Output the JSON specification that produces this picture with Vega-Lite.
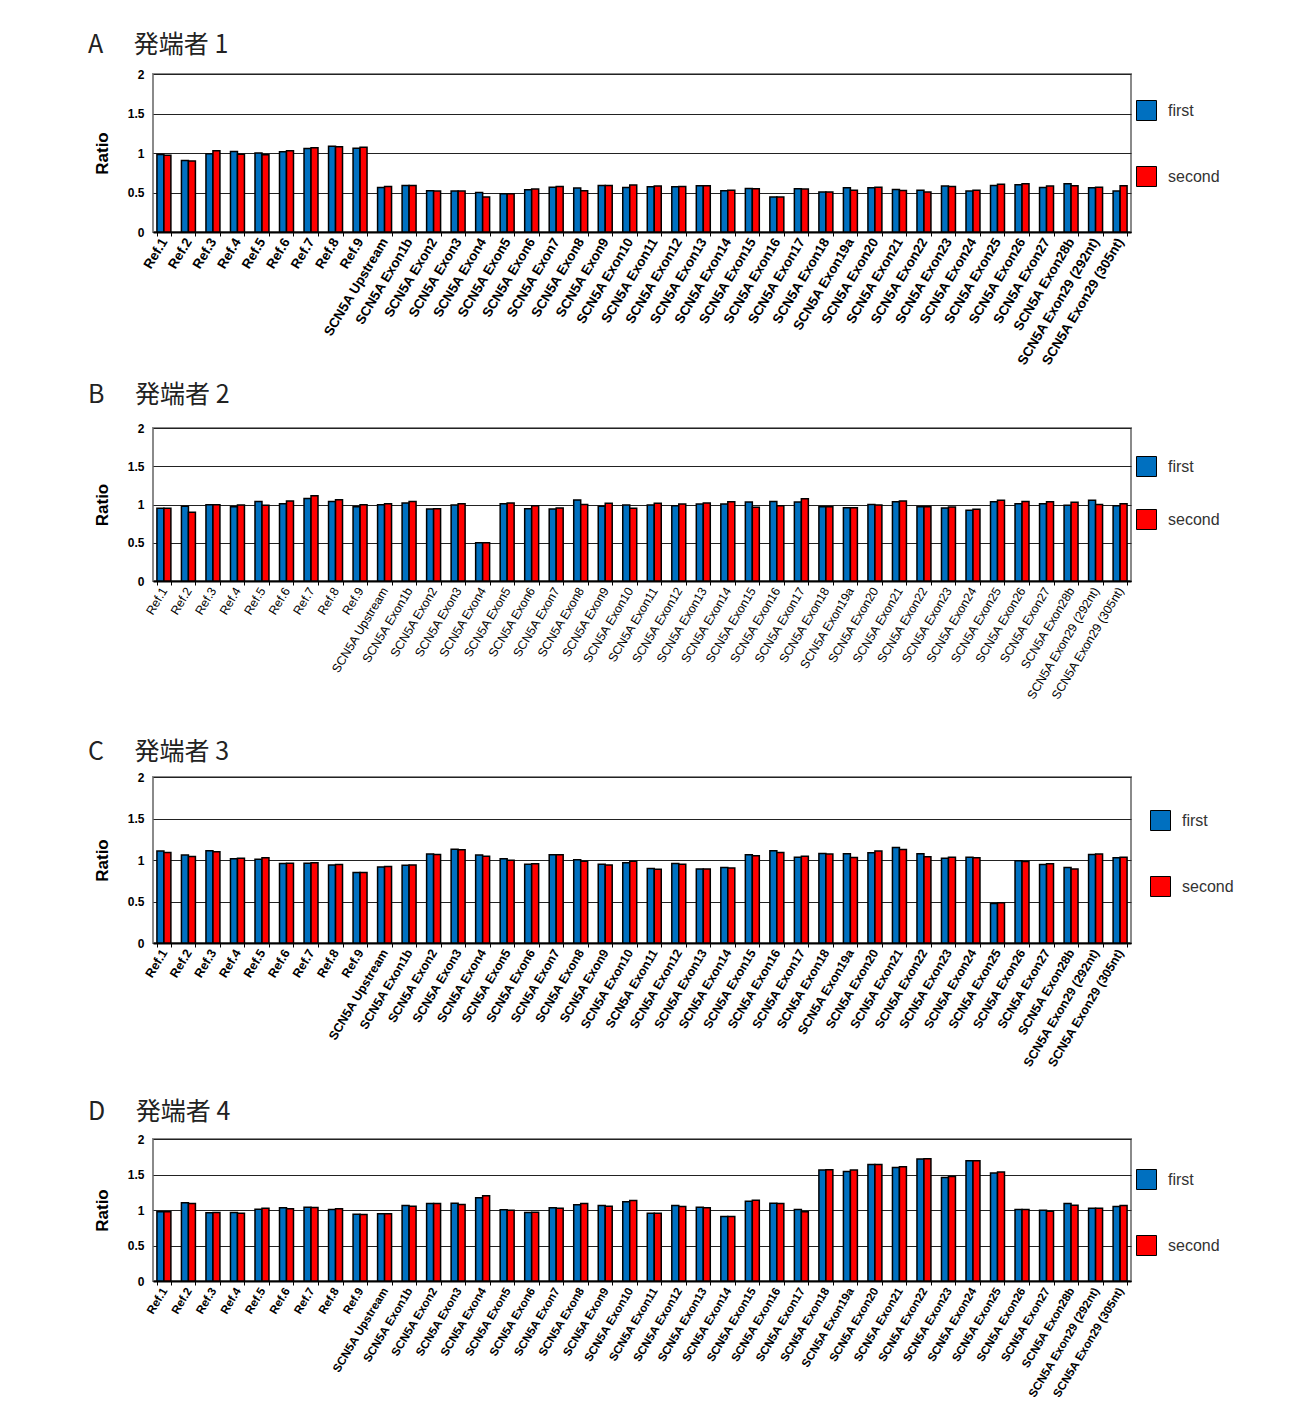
{
  "$schema": "https://vega.github.io/schema/vega-lite/v6.json",
  "padding": {"left": 87, "top": 32, "right": 5, "bottom": 5},
  "background": "white",
  "spacing": 196,
  "bounds": "flush",
  "config": {
    "view": {"stroke": "#8a8a8a", "strokeWidth": 2},
    "axis": {"labelFont": "Liberation Sans", "labelColor": "black", "titleFont": "Liberation Sans", "titleColor": "black"},
    "axisX": {"domainColor": "black", "domainWidth": 2, "tickColor": "black", "tickSize": 4, "tickBand": "extent", "labelAngle": -59, "labelPadding": 3, "grid": false, "labelLimit": 300},
    "axisY": {"domain": false, "ticks": false, "labelFontSize": 12, "labelFontWeight": "bold", "labelPadding": 9, "grid": true, "gridColor": "#222", "gridWidth": 1, "titleFontSize": 17, "titleFontWeight": "bold", "minExtent": 38, "maxExtent": 38, "titlePadding": 4},
    "title": {"font": "Noto Sans CJK JP", "fontSize": 25, "fontWeight": "normal", "color": "#222", "anchor": "start", "frame": "group", "dx": -65},
    "legend": {"orient": "none", "legendX": 983, "title": null, "symbolType": "square", "symbolSize": 400, "symbolStrokeColor": "black", "symbolStrokeWidth": 1, "symbolOpacity": 1, "labelFontSize": 16, "labelFont": "Liberation Sans", "labelColor": "#333", "labelOffset": 11}
  },
  "resolve": {"scale": {"color": "independent", "x": "independent", "y": "independent"}, "legend": {"color": "independent"}},
  "datasets": {
    "A": [
      {"c": "Ref.1", "first": 0.98, "second": 0.97},
      {"c": "Ref.2", "first": 0.905, "second": 0.9},
      {"c": "Ref.3", "first": 0.99, "second": 1.03},
      {"c": "Ref.4", "first": 1.02, "second": 0.985},
      {"c": "Ref.5", "first": 1.0, "second": 0.977},
      {"c": "Ref.6", "first": 1.015, "second": 1.03},
      {"c": "Ref.7", "first": 1.057, "second": 1.065},
      {"c": "Ref.8", "first": 1.086, "second": 1.078},
      {"c": "Ref.9", "first": 1.06, "second": 1.074},
      {"c": "SCN5A Upstream", "first": 0.564, "second": 0.577},
      {"c": "SCN5A Exon1b", "first": 0.589, "second": 0.589},
      {"c": "SCN5A Exon2", "first": 0.522, "second": 0.518},
      {"c": "SCN5A Exon3", "first": 0.518, "second": 0.518},
      {"c": "SCN5A Exon4", "first": 0.5, "second": 0.442},
      {"c": "SCN5A Exon5", "first": 0.484, "second": 0.484},
      {"c": "SCN5A Exon6", "first": 0.535, "second": 0.543},
      {"c": "SCN5A Exon7", "first": 0.568, "second": 0.577},
      {"c": "SCN5A Exon8", "first": 0.556, "second": 0.522},
      {"c": "SCN5A Exon9", "first": 0.589, "second": 0.589},
      {"c": "SCN5A Exon10", "first": 0.564, "second": 0.594},
      {"c": "SCN5A Exon11", "first": 0.573, "second": 0.581},
      {"c": "SCN5A Exon12", "first": 0.573, "second": 0.577},
      {"c": "SCN5A Exon13", "first": 0.585, "second": 0.585},
      {"c": "SCN5A Exon14", "first": 0.522, "second": 0.53},
      {"c": "SCN5A Exon15", "first": 0.552, "second": 0.547},
      {"c": "SCN5A Exon16", "first": 0.442, "second": 0.442},
      {"c": "SCN5A Exon17", "first": 0.547, "second": 0.543},
      {"c": "SCN5A Exon18", "first": 0.505, "second": 0.505},
      {"c": "SCN5A Exon19a", "first": 0.56, "second": 0.53},
      {"c": "SCN5A Exon20", "first": 0.56, "second": 0.568},
      {"c": "SCN5A Exon21", "first": 0.539, "second": 0.526},
      {"c": "SCN5A Exon22", "first": 0.53, "second": 0.505},
      {"c": "SCN5A Exon23", "first": 0.581, "second": 0.577},
      {"c": "SCN5A Exon24", "first": 0.518, "second": 0.53},
      {"c": "SCN5A Exon25", "first": 0.589, "second": 0.606},
      {"c": "SCN5A Exon26", "first": 0.598, "second": 0.61},
      {"c": "SCN5A Exon27", "first": 0.564, "second": 0.581},
      {"c": "SCN5A Exon28b", "first": 0.61, "second": 0.585},
      {"c": "SCN5A Exon29 (292nt)", "first": 0.56, "second": 0.568},
      {"c": "SCN5A Exon29 (305nt)", "first": 0.518, "second": 0.585}
    ],
    "B": [
      {"c": "Ref.1", "first": 0.95, "second": 0.95},
      {"c": "Ref.2", "first": 0.976, "second": 0.9},
      {"c": "Ref.3", "first": 0.998, "second": 0.998},
      {"c": "Ref.4", "first": 0.97, "second": 0.993},
      {"c": "Ref.5", "first": 1.04, "second": 0.99},
      {"c": "Ref.6", "first": 1.01, "second": 1.046},
      {"c": "Ref.7", "first": 1.08, "second": 1.115},
      {"c": "Ref.8", "first": 1.04, "second": 1.063},
      {"c": "Ref.9", "first": 0.97, "second": 0.998},
      {"c": "SCN5A Upstream", "first": 0.998, "second": 1.01},
      {"c": "SCN5A Exon1b", "first": 1.02, "second": 1.04},
      {"c": "SCN5A Exon2", "first": 0.94, "second": 0.945},
      {"c": "SCN5A Exon3", "first": 0.993, "second": 1.01},
      {"c": "SCN5A Exon4", "first": 0.5, "second": 0.5},
      {"c": "SCN5A Exon5", "first": 1.01, "second": 1.02},
      {"c": "SCN5A Exon6", "first": 0.945, "second": 0.985},
      {"c": "SCN5A Exon7", "first": 0.94, "second": 0.955},
      {"c": "SCN5A Exon8", "first": 1.06, "second": 1.0},
      {"c": "SCN5A Exon9", "first": 0.976, "second": 1.015},
      {"c": "SCN5A Exon10", "first": 0.993, "second": 0.95},
      {"c": "SCN5A Exon11", "first": 0.993, "second": 1.015},
      {"c": "SCN5A Exon12", "first": 0.985, "second": 1.006},
      {"c": "SCN5A Exon13", "first": 1.006, "second": 1.02},
      {"c": "SCN5A Exon14", "first": 1.006, "second": 1.037},
      {"c": "SCN5A Exon15", "first": 1.033, "second": 0.963},
      {"c": "SCN5A Exon16", "first": 1.04, "second": 0.985},
      {"c": "SCN5A Exon17", "first": 1.033, "second": 1.076},
      {"c": "SCN5A Exon18", "first": 0.97, "second": 0.97},
      {"c": "SCN5A Exon19a", "first": 0.958, "second": 0.958},
      {"c": "SCN5A Exon20", "first": 1.0, "second": 0.993},
      {"c": "SCN5A Exon21", "first": 1.037, "second": 1.046},
      {"c": "SCN5A Exon22", "first": 0.97, "second": 0.97},
      {"c": "SCN5A Exon23", "first": 0.954, "second": 0.967},
      {"c": "SCN5A Exon24", "first": 0.924, "second": 0.937},
      {"c": "SCN5A Exon25", "first": 1.037, "second": 1.054},
      {"c": "SCN5A Exon26", "first": 1.01, "second": 1.04},
      {"c": "SCN5A Exon27", "first": 1.01, "second": 1.037},
      {"c": "SCN5A Exon28b", "first": 0.99, "second": 1.028},
      {"c": "SCN5A Exon29 (292nt)", "first": 1.054, "second": 1.0},
      {"c": "SCN5A Exon29 (305nt)", "first": 0.985, "second": 1.01}
    ],
    "C": [
      {"c": "Ref.1", "first": 1.107, "second": 1.09},
      {"c": "Ref.2", "first": 1.059, "second": 1.042},
      {"c": "Ref.3", "first": 1.111, "second": 1.099},
      {"c": "Ref.4", "first": 1.014, "second": 1.022},
      {"c": "Ref.5", "first": 1.01, "second": 1.026},
      {"c": "Ref.6", "first": 0.958, "second": 0.962},
      {"c": "Ref.7", "first": 0.962, "second": 0.966},
      {"c": "Ref.8", "first": 0.941, "second": 0.945},
      {"c": "Ref.9", "first": 0.848, "second": 0.848},
      {"c": "SCN5A Upstream", "first": 0.917, "second": 0.921},
      {"c": "SCN5A Exon1b", "first": 0.937, "second": 0.941},
      {"c": "SCN5A Exon2", "first": 1.071, "second": 1.067},
      {"c": "SCN5A Exon3", "first": 1.131, "second": 1.123},
      {"c": "SCN5A Exon4", "first": 1.059, "second": 1.046},
      {"c": "SCN5A Exon5", "first": 1.014, "second": 0.998},
      {"c": "SCN5A Exon6", "first": 0.949, "second": 0.954},
      {"c": "SCN5A Exon7", "first": 1.063, "second": 1.063},
      {"c": "SCN5A Exon8", "first": 1.002, "second": 0.986},
      {"c": "SCN5A Exon9", "first": 0.949, "second": 0.941},
      {"c": "SCN5A Exon10", "first": 0.966, "second": 0.986},
      {"c": "SCN5A Exon11", "first": 0.897, "second": 0.889},
      {"c": "SCN5A Exon12", "first": 0.958, "second": 0.949},
      {"c": "SCN5A Exon13", "first": 0.893, "second": 0.893},
      {"c": "SCN5A Exon14", "first": 0.909, "second": 0.905},
      {"c": "SCN5A Exon15", "first": 1.063, "second": 1.051},
      {"c": "SCN5A Exon16", "first": 1.111, "second": 1.091},
      {"c": "SCN5A Exon17", "first": 1.034, "second": 1.046},
      {"c": "SCN5A Exon18", "first": 1.079, "second": 1.071},
      {"c": "SCN5A Exon19a", "first": 1.075, "second": 1.03},
      {"c": "SCN5A Exon20", "first": 1.087, "second": 1.107},
      {"c": "SCN5A Exon21", "first": 1.152, "second": 1.127},
      {"c": "SCN5A Exon22", "first": 1.075, "second": 1.038},
      {"c": "SCN5A Exon23", "first": 1.022, "second": 1.034},
      {"c": "SCN5A Exon24", "first": 1.034, "second": 1.026},
      {"c": "SCN5A Exon25", "first": 0.477, "second": 0.485},
      {"c": "SCN5A Exon26", "first": 0.99, "second": 0.982},
      {"c": "SCN5A Exon27", "first": 0.945, "second": 0.954},
      {"c": "SCN5A Exon28b", "first": 0.909, "second": 0.893},
      {"c": "SCN5A Exon29 (292nt)", "first": 1.067, "second": 1.071},
      {"c": "SCN5A Exon29 (305nt)", "first": 1.026, "second": 1.034}
    ],
    "D": [
      {"c": "Ref.1", "first": 0.974, "second": 0.974},
      {"c": "Ref.2", "first": 1.101, "second": 1.092},
      {"c": "Ref.3", "first": 0.96, "second": 0.965},
      {"c": "Ref.4", "first": 0.965, "second": 0.955},
      {"c": "Ref.5", "first": 1.012, "second": 1.026},
      {"c": "Ref.6", "first": 1.031, "second": 1.016},
      {"c": "Ref.7", "first": 1.04, "second": 1.035},
      {"c": "Ref.8", "first": 1.007, "second": 1.016},
      {"c": "Ref.9", "first": 0.941, "second": 0.936},
      {"c": "SCN5A Upstream", "first": 0.946, "second": 0.946},
      {"c": "SCN5A Exon1b", "first": 1.064, "second": 1.054},
      {"c": "SCN5A Exon2", "first": 1.092, "second": 1.092},
      {"c": "SCN5A Exon3", "first": 1.096, "second": 1.078},
      {"c": "SCN5A Exon4", "first": 1.172, "second": 1.2},
      {"c": "SCN5A Exon5", "first": 1.002, "second": 0.998},
      {"c": "SCN5A Exon6", "first": 0.965, "second": 0.969},
      {"c": "SCN5A Exon7", "first": 1.031, "second": 1.026},
      {"c": "SCN5A Exon8", "first": 1.073, "second": 1.092},
      {"c": "SCN5A Exon9", "first": 1.064, "second": 1.054},
      {"c": "SCN5A Exon10", "first": 1.115, "second": 1.134},
      {"c": "SCN5A Exon11", "first": 0.955, "second": 0.955},
      {"c": "SCN5A Exon12", "first": 1.064, "second": 1.049},
      {"c": "SCN5A Exon13", "first": 1.04, "second": 1.031},
      {"c": "SCN5A Exon14", "first": 0.908, "second": 0.908},
      {"c": "SCN5A Exon15", "first": 1.125, "second": 1.139},
      {"c": "SCN5A Exon16", "first": 1.096, "second": 1.092},
      {"c": "SCN5A Exon17", "first": 1.007, "second": 0.974},
      {"c": "SCN5A Exon18", "first": 1.562, "second": 1.567},
      {"c": "SCN5A Exon19a", "first": 1.544, "second": 1.562},
      {"c": "SCN5A Exon20", "first": 1.642, "second": 1.642},
      {"c": "SCN5A Exon21", "first": 1.6, "second": 1.609},
      {"c": "SCN5A Exon22", "first": 1.718, "second": 1.722},
      {"c": "SCN5A Exon23", "first": 1.459, "second": 1.473},
      {"c": "SCN5A Exon24", "first": 1.694, "second": 1.694},
      {"c": "SCN5A Exon25", "first": 1.52, "second": 1.534},
      {"c": "SCN5A Exon26", "first": 1.007, "second": 1.007},
      {"c": "SCN5A Exon27", "first": 0.998, "second": 0.984},
      {"c": "SCN5A Exon28b", "first": 1.092, "second": 1.068},
      {"c": "SCN5A Exon29 (292nt)", "first": 1.026, "second": 1.026},
      {"c": "SCN5A Exon29 (305nt)", "first": 1.049, "second": 1.064}
    ]
  },
  "vconcat": [
    {
      "data": {"name": "A"},
      "transform": [{"fold": ["first", "second"], "as": ["series", "value"]}],
      "title": {"text": "A　 発端者 1", "offset": 10},
      "width": 978, "height": 158,
      "mark": {"type": "bar", "stroke": "black", "strokeWidth": 1.5},
      "encoding": {
        "x": {"field": "c", "type": "nominal", "sort": null, "title": null, "scale": {"paddingInner": 0.43, "paddingOuter": 0.16}, "axis": {"labelFontWeight": "bold", "labelFontSize": 13.5}},
        "xOffset": {"field": "series", "type": "nominal", "scale": {"paddingInner": 0}},
        "y": {"field": "value", "type": "quantitative", "scale": {"domain": [0, 2]}, "axis": {"title": "Ratio", "values": [0, 0.5, 1, 1.5, 2], "format": "~g"}},
        "color": {"field": "series", "type": "nominal", "scale": {"domain": ["first", "second"], "range": ["#0070C0", "#FF0000"]},
          "legend": {"legendY": 26, "rowPadding": 41, "encode": {"symbols": {"update": {"fill": {"signal": "datum.label === 'first' ? '#4F81BD' : '#FF0000'"}, "stroke": {"value": "black"}, "strokeWidth": {"value": 1}}}}}}
      }
    },
    {
      "data": {"name": "B"},
      "transform": [{"fold": ["first", "second"], "as": ["series", "value"]}],
      "title": {"text": "B　 発端者 2", "offset": 14},
      "width": 978, "height": 153,
      "mark": {"type": "bar", "stroke": "black", "strokeWidth": 1.5},
      "encoding": {
        "x": {"field": "c", "type": "nominal", "sort": null, "title": null, "scale": {"paddingInner": 0.43, "paddingOuter": 0.16}, "axis": {"labelFontWeight": "normal", "labelFontSize": 12.3}},
        "xOffset": {"field": "series", "type": "nominal", "scale": {"paddingInner": 0}},
        "y": {"field": "value", "type": "quantitative", "scale": {"domain": [0, 2]}, "axis": {"title": "Ratio", "values": [0, 0.5, 1, 1.5, 2], "format": "~g"}},
        "color": {"field": "series", "type": "nominal", "scale": {"domain": ["first", "second"], "range": ["#0070C0", "#FF0000"]},
          "legend": {"legendY": 28, "rowPadding": 28, "encode": {"symbols": {"update": {"fill": {"signal": "datum.label === 'first' ? '#4F81BD' : '#FF0000'"}, "stroke": {"value": "black"}, "strokeWidth": {"value": 1}}}}}}
      }
    },
    {
      "data": {"name": "C"},
      "transform": [{"fold": ["first", "second"], "as": ["series", "value"]}],
      "title": {"text": "C　 発端者 3", "offset": 6},
      "width": 978, "height": 166,
      "mark": {"type": "bar", "stroke": "black", "strokeWidth": 1.5},
      "encoding": {
        "x": {"field": "c", "type": "nominal", "sort": null, "title": null, "scale": {"paddingInner": 0.43, "paddingOuter": 0.16}, "axis": {"labelFontWeight": "bold", "labelFontSize": 12.5}},
        "xOffset": {"field": "series", "type": "nominal", "scale": {"paddingInner": 0}},
        "y": {"field": "value", "type": "quantitative", "scale": {"domain": [0, 2]}, "axis": {"title": "Ratio", "values": [0, 0.5, 1, 1.5, 2], "format": "~g"}},
        "color": {"field": "series", "type": "nominal", "scale": {"domain": ["first", "second"], "range": ["#0070C0", "#FF0000"]},
          "legend": {"legendX": 997, "legendY": 33, "rowPadding": 41, "encode": {"symbols": {"update": {"fill": {"signal": "datum.label === 'first' ? '#4F81BD' : '#FF0000'"}, "stroke": {"value": "black"}, "strokeWidth": {"value": 1}}}}}}
      }
    },
    {
      "data": {"name": "D"},
      "transform": [{"fold": ["first", "second"], "as": ["series", "value"]}],
      "title": {"text": "D　 発端者 4", "offset": 8},
      "width": 978, "height": 142,
      "mark": {"type": "bar", "stroke": "black", "strokeWidth": 1.5},
      "encoding": {
        "x": {"field": "c", "type": "nominal", "sort": null, "title": null, "scale": {"paddingInner": 0.43, "paddingOuter": 0.16}, "axis": {"labelFontWeight": "bold", "labelFontSize": 11.7}},
        "xOffset": {"field": "series", "type": "nominal", "scale": {"paddingInner": 0}},
        "y": {"field": "value", "type": "quantitative", "scale": {"domain": [0, 2]}, "axis": {"title": "Ratio", "values": [0, 0.5, 1, 1.5, 2], "format": "~g"}},
        "color": {"field": "series", "type": "nominal", "scale": {"domain": ["first", "second"], "range": ["#0070C0", "#FF0000"]},
          "legend": {"legendY": 30, "rowPadding": 41, "encode": {"symbols": {"update": {"fill": {"signal": "datum.label === 'first' ? '#4F81BD' : '#FF0000'"}, "stroke": {"value": "black"}, "strokeWidth": {"value": 1}}}}}}
      }
    }
  ]
}
